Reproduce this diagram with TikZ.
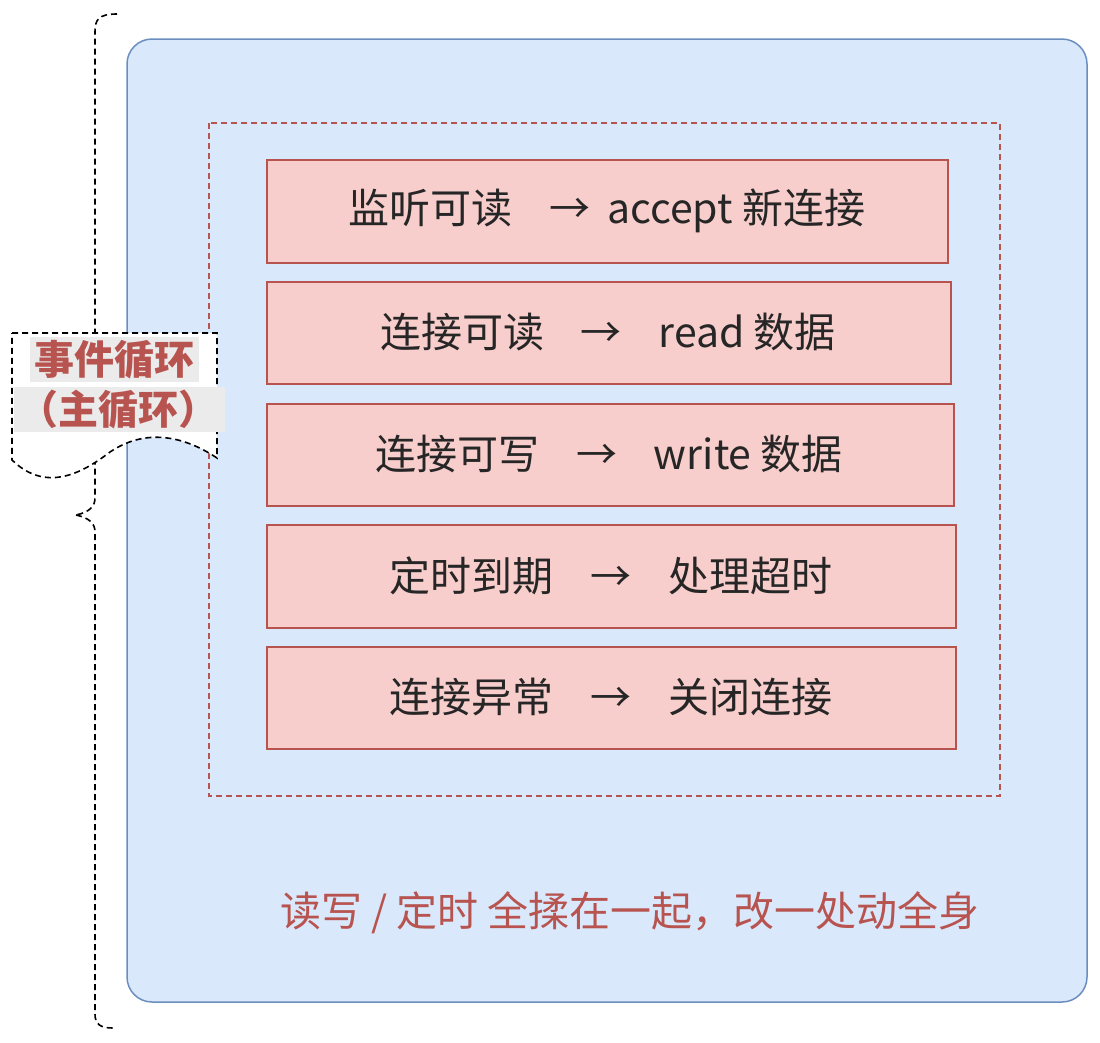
\documentclass[tikz,border=0pt]{standalone}
\usepackage{fontspec}
\setmainfont{Noto Sans CJK SC}
\usetikzlibrary{positioning}
\definecolor{rd}{HTML}{B85450}
\definecolor{rf}{HTML}{F8CECC}
\definecolor{bf}{HTML}{DAE8FC}
\definecolor{bd}{HTML}{6C8EBF}
\begin{document}
\begin{tikzpicture}[x=1pt,y=-1pt,
 row/.style={draw=rd,fill=rf,line width=1.2pt},
 rt/.style={font=\fontsize{41}{46}\selectfont,text=black!85,anchor=center},
 dsh/.style={dash pattern=on 6pt off 4pt,line width=1.6pt}]
\useasboundingbox (0,0) rectangle (1100,1042);
\draw[draw=bd,fill=bf,line width=1.5pt,rounded corners=25pt] (127,39) rectangle (1087,1002);
\draw[draw=rd,dsh,line width=1.2pt] (209,123) rectangle (1000,796);
\foreach \i/\a/\b/\c in {1/160/263/948,2/282/384/951,3/404/506/954,4/525/628/956,5/647/749/956}
  \draw[row] (267,\a) rectangle (\c,\b) coordinate (r\i);
\node[rt] (t1) at (607,211) {监听可读\hspace{0.9em}→\hspace{0.4em}accept 新连接};
\node[rt] (t2) at (608,332) {连接可读\hspace{0.9em}→\hspace{0.9em}read 数据};
\node[rt] (t3) at (609,454) {连接可写\hspace{0.9em}→\hspace{0.9em}write 数据};
\node[rt] (t4) at (611,576) {定时到期\hspace{0.9em}→\hspace{0.9em}处理超时};
\node[rt] (t5) at (611,697) {连接异常\hspace{0.9em}→\hspace{0.9em}关闭连接};
\node[font=\fontsize{41}{46}\selectfont,text=rd] (note) at (630,913) {读写 / 定时 全揉在一起，改一处动全身};
% brace
\draw[dsh] (117,14) .. controls (98,14) and (95,20) .. (95,32) -- (95,498)
  .. controls (95,506) and (90,512) .. (76,515);
\draw[dsh] (76,515) .. controls (90,518) and (95,524) .. (95,532) -- (95,1014)
  .. controls (95,1024) and (100,1028) .. (113,1028);
% callout document shape
\draw[dsh,fill=white] (12,333) -- (217,333) -- (217,458)
  .. controls (190,440) and (150,425) .. (110,452)
  .. controls (80,475) and (45,492) .. (12,460) -- cycle;
\fill[black!8] (30,337) rectangle (199,382);
\fill[black!8] (14,387) rectangle (225,432);
\node[font=\fontsize{40}{44}\selectfont\bfseries,text=rd] (c1) at (114,360) {事件循环};
\node[font=\fontsize{40}{44}\selectfont\bfseries,text=rd] (c2) at (118,410) {（主循环）};
\end{tikzpicture}
\end{document}
